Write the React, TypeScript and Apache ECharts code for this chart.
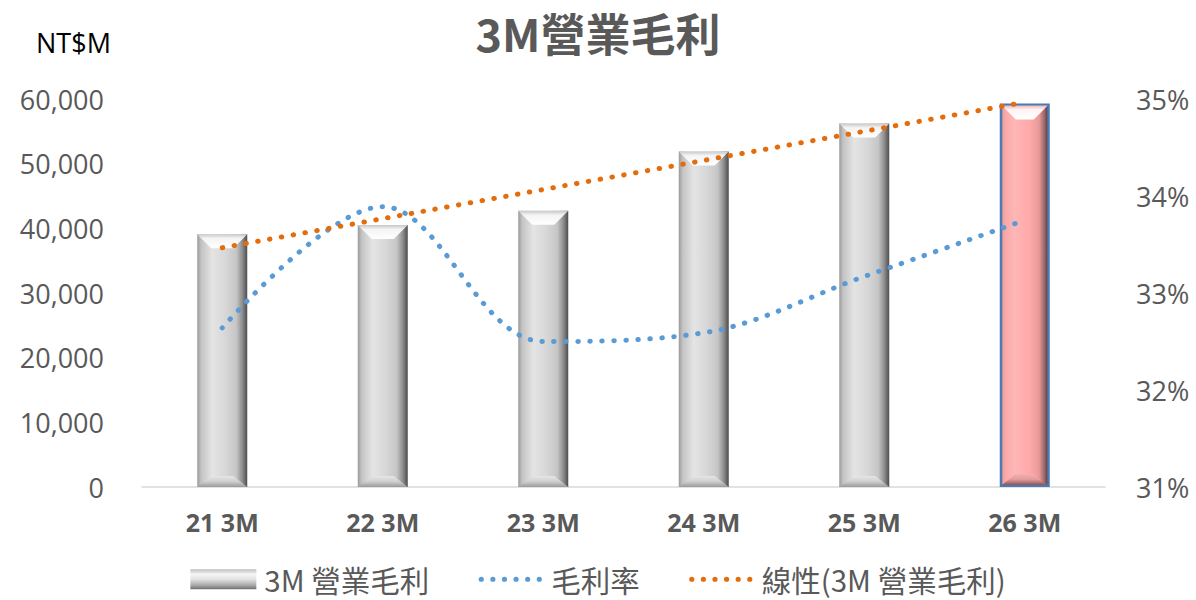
import React, { useEffect, useRef } from 'react';
import * as echarts from 'echarts';

const categories = ['21 3M', '22 3M', '23 3M', '24 3M', '25 3M', '26 3M'];
const grossProfit = [39100, 40500, 42700, 51900, 56200, 59300];
const grossMargin = [32.64, 33.89, 32.5, 32.59, 33.17, 33.75];
const trendProfit = [37000, 41500, 46000, 50500, 55000, 59500];
const seriesNames = ['3M 營業毛利', '毛利率', '線性(3M 營業毛利)'];
const titleText = '3M營業毛利';
const unitText = 'NT$M';

const LATIN = '"Open Sans", "Noto Sans", sans-serif';
const CJK = '"Noto Sans CJK TC", "Noto Sans", sans-serif';

const grayBody = () =>
  new echarts.graphic.LinearGradient(0, 0, 1, 0, [
    { offset: 0, color: '#9a9a9a' },
    { offset: 0.08, color: '#c4c4c4' },
    { offset: 0.3, color: '#e4e4e4' },
    { offset: 0.55, color: '#d8d8d8' },
    { offset: 0.78, color: '#c6c6c6' },
    { offset: 0.9, color: '#8e8e8e' },
    { offset: 1, color: '#4c4c4c' },
  ]);

const pinkBody = () =>
  new echarts.graphic.LinearGradient(0, 0, 1, 0, [
    { offset: 0, color: '#e69797' },
    { offset: 0.1, color: '#f8aaaa' },
    { offset: 0.3, color: '#ffb6b6' },
    { offset: 0.6, color: '#ffa9a9' },
    { offset: 0.8, color: '#e99a9a' },
    { offset: 0.92, color: '#9a6464' },
    { offset: 1, color: '#4a3030' },
  ]);

const legendBarIcon = () =>
  new echarts.graphic.LinearGradient(0, 0, 0, 1, [
    { offset: 0, color: '#bdbdbd' },
    { offset: 0.25, color: '#f6f6f6' },
    { offset: 0.5, color: '#e2e2e2' },
    { offset: 0.8, color: '#a9a9a9' },
    { offset: 1, color: '#6e6e6e' },
  ]);

// six round dots in a 66x20 box (corner move-tos fix the box)
const dotsIcon = (() => {
  const r = 2.6;
  let d = 'M0 0 M66 20 ';
  for (let k = 0; k < 6; k++) {
    const cx = 4 + k * 11.6;
    d += `M${cx - r} 10 a${r} ${r} 0 1 0 ${2 * r} 0 a${r} ${r} 0 1 0 ${-2 * r} 0 Z `;
  }
  return 'path://' + d;
})();

export default function App() {
  const ref = useRef<HTMLDivElement>(null);

  useEffect(() => {
    if (!ref.current) return;
    const chart = echarts.init(ref.current, null, { renderer: 'svg' });
    const lastIdx = categories.length - 1;

    const option: any = {
      animation: false,
      backgroundColor: '#ffffff',
      title: {
        text: titleText,
        left: 'center',
        top: 6,
        padding: 0,
        textStyle: {
          fontFamily: CJK,
          fontSize: 45,
          lineHeight: 52,
          fontWeight: 'bold',
          color: '#595959',
        },
      },
      graphic: [
        {
          type: 'text',
          left: 36,
          top: 29,
          style: { text: unitText, fontFamily: LATIN, fontSize: 27, fill: '#000000' },
        },
      ],
      legend: {
        bottom: 1,
        left: 'center',
        itemGap: 48,
        itemWidth: 66,
        itemHeight: 20,
        data: [
          { name: seriesNames[0], icon: 'rect', itemStyle: { color: legendBarIcon(), borderWidth: 0 } },
          { name: seriesNames[1], icon: dotsIcon, itemStyle: { color: '#5b9bd5', borderWidth: 0 } },
          { name: seriesNames[2], icon: dotsIcon, itemStyle: { color: '#e46c0a', borderWidth: 0 } },
        ],
        textStyle: { fontFamily: CJK, fontSize: 29.5, color: '#595959', padding: [0, 0, 0, 3] },
      },
      grid: { left: 142, right: 91, top: 99, bottom: 113, containLabel: false },
      xAxis: {
        type: 'category',
        data: categories,
        axisLine: { lineStyle: { color: '#d9d9d9', width: 1.5 } },
        axisTick: { show: false },
        axisLabel: {
          margin: 22,
          fontFamily: LATIN,
          fontSize: 25,
          fontWeight: 'bold',
          color: '#595959',
        },
      },
      yAxis: [
        {
          type: 'value',
          min: 0,
          max: 60000,
          interval: 10000,
          splitLine: { show: false },
          axisLine: { show: false },
          axisTick: { show: false },
          axisLabel: {
            margin: 38,
            fontFamily: LATIN,
            fontSize: 27,
            color: '#595959',
            formatter: (v: number) => v.toLocaleString('en-US'),
          },
        },
        {
          type: 'value',
          min: 31,
          max: 35,
          interval: 1,
          splitLine: { show: false },
          axisLine: { show: false },
          axisTick: { show: false },
          axisLabel: {
            margin: 31,
            fontFamily: LATIN,
            fontSize: 27,
            color: '#595959',
            formatter: '{value}%',
          },
        },
      ],
      series: [
        {
          name: seriesNames[0],
          type: 'bar',
          barWidth: 50,
          z: 2,
          itemStyle: { color: grayBody() },
          data: grossProfit.map((v, i) =>
            i === lastIdx
              ? { value: v, itemStyle: { color: pinkBody(), borderColor: '#4a7ab5', borderWidth: 2.5 } }
              : v
          ),
        },
        {
          name: 'bevel',
          type: 'custom',
          z: 3,
          silent: true,
          encode: { x: 0, y: 1 },
          data: grossProfit.map((v, i) => [i, v]),
          renderItem: (params: any, api: any) => {
            const idx = api.value(0);
            const v = api.value(1);
            const top = api.coord([idx, v]);
            const bot = api.coord([idx, 0]);
            const w = 50;
            const pink = idx === lastIdx;
            const inset = pink ? 2 : 0;
            const xl = top[0] - w / 2 + inset;
            const xr = top[0] + w / 2 - inset;
            const yT = top[1] + inset;
            const yB = bot[1] - inset;
            const b = 14;
            const topFill = new echarts.graphic.LinearGradient(0, 0, 0, 1, pink
              ? [
                  { offset: 0, color: '#f0b8b8' },
                  { offset: 0.3, color: '#fff4f4' },
                  { offset: 1, color: '#ffffff' },
                ]
              : [
                  { offset: 0, color: '#c8c8c8' },
                  { offset: 0.3, color: '#f4f4f4' },
                  { offset: 1, color: '#ffffff' },
                ]);
            const botFill = new echarts.graphic.LinearGradient(0, 0, 0, 1, pink
              ? [
                  { offset: 0, color: '#f5b0b0' },
                  { offset: 0.5, color: '#e39a9a' },
                  { offset: 1, color: '#8a5555' },
                ]
              : [
                  { offset: 0, color: '#e6e6e6' },
                  { offset: 0.5, color: '#cfcfcf' },
                  { offset: 1, color: '#9a9a9a' },
                ]);
            return {
              type: 'group',
              children: [
                {
                  type: 'polygon',
                  shape: { points: [[xl, yT], [xr, yT], [xr - b, yT + b], [xl + b, yT + b]] },
                  style: { fill: topFill },
                },
                {
                  type: 'polygon',
                  shape: { points: [[xl, yB], [xr, yB], [xr - b, yB - 11], [xl + b, yB - 11]] },
                  style: { fill: botFill },
                },
              ],
            };
          },
        },
        {
          name: seriesNames[1],
          type: 'line',
          yAxisIndex: 1,
          z: 5,
          smooth: 0.35,
          symbol: 'none',
          data: grossMargin,
          itemStyle: { color: '#5b9bd5' },
          lineStyle: { color: '#5b9bd5', width: 5, type: [0.5, 11.5], cap: 'round' },
        },
        {
          name: seriesNames[2],
          type: 'line',
          z: 6,
          symbol: 'none',
          data: trendProfit,
          itemStyle: { color: '#e46c0a' },
          lineStyle: { color: '#e46c0a', width: 5, type: [0.5, 11.5], cap: 'round' },
        },
      ],
    };

    chart.setOption(option);
    return () => chart.dispose();
  }, []);

  return (
    <div
      ref={ref}
      style={{ position: 'fixed', left: 0, top: 0, width: 1196, height: 600, background: '#fff' }}
    />
  );
}
